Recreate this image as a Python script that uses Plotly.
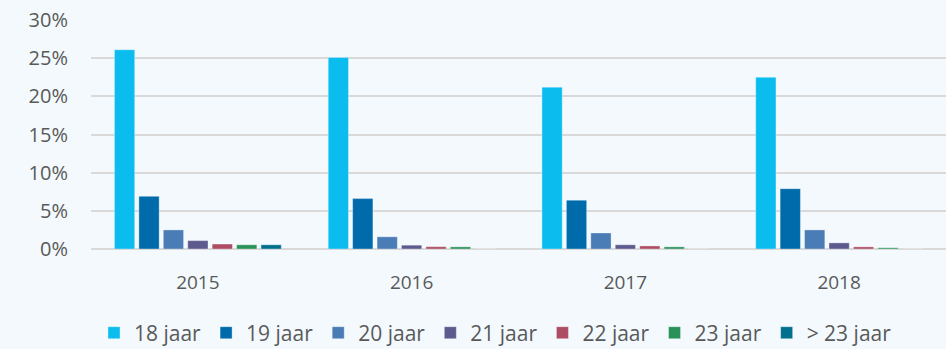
import plotly.graph_objects as go

years = ["2015", "2016", "2017", "2018"]
series_names = ["18 jaar", "19 jaar", "20 jaar", "21 jaar", "22 jaar", "23 jaar", "> 23 jaar"]

age_18 = [26.1, 25.1, 21.2, 22.5]
age_19 = [6.9, 6.6, 6.4, 7.9]
age_20 = [2.5, 1.6, 2.1, 2.5]
age_21 = [1.1, 0.5, 0.55, 0.8]
age_22 = [0.65, 0.3, 0.4, 0.28]
age_23 = [0.55, 0.28, 0.28, 0.16]
age_over_23 = [0.55, 0.0, 0.0, 0.0]

colors = ["#0BBCEE", "#006BAA", "#4A7CB6", "#5D5A8E", "#AD4D64", "#2A9159", "#016F8E"]
values = [age_18, age_19, age_20, age_21, age_22, age_23, age_over_23]

font_family = "'Open Sans', 'Noto Sans', sans-serif"
text_color = "#595959"
bg = "#F3F9FD"

fig = go.Figure()
for name, vals, col in zip(series_names, values, colors):
    fig.add_trace(go.Bar(
        x=years,
        y=[v / 100 for v in vals],
        name=name,
        marker=dict(color=col, line=dict(color="rgba(255,255,255,0.35)", width=1)),
    ))

fig.update_layout(
    width=946,
    height=349,
    margin=dict(l=91, r=0, t=20, b=100, autoexpand=False),
    paper_bgcolor=bg,
    plot_bgcolor=bg,
    barmode="group",
    bargap=0.2,
    bargroupgap=0.17,
    font=dict(family=font_family, size=20, color=text_color),
    showlegend=True,
    legend=dict(
        orientation="h",
        x=0.0035,
        xanchor="left",
        y=-0.367,
        yanchor="middle",
        font=dict(family=font_family, size=21, color=text_color),
        traceorder="normal",
        bgcolor="rgba(0,0,0,0)",
        itemwidth=30,
    ),
)

fig.update_yaxes(
    range=[0, 0.30],
    tickvals=[0, 0.05, 0.10, 0.15, 0.20, 0.25, 0.30],
    tickformat=".0%",
    showgrid=True,
    gridcolor="#D9D9D9",
    gridwidth=2,
    zeroline=True,
    zerolinecolor="#D9D9D9",
    zerolinewidth=2,
    showline=False,
    ticks="",
    ticklabelstandoff=22,
    tickfont=dict(family=font_family, size=20, color=text_color),
    fixedrange=True,
)
fig.update_xaxes(
    showgrid=False,
    showline=False,
    ticks="",
    ticklabelstandoff=20,
    tickfont=dict(family=font_family, size=19, color=text_color),
    fixedrange=True,
)

fig.write_html("out.html")
